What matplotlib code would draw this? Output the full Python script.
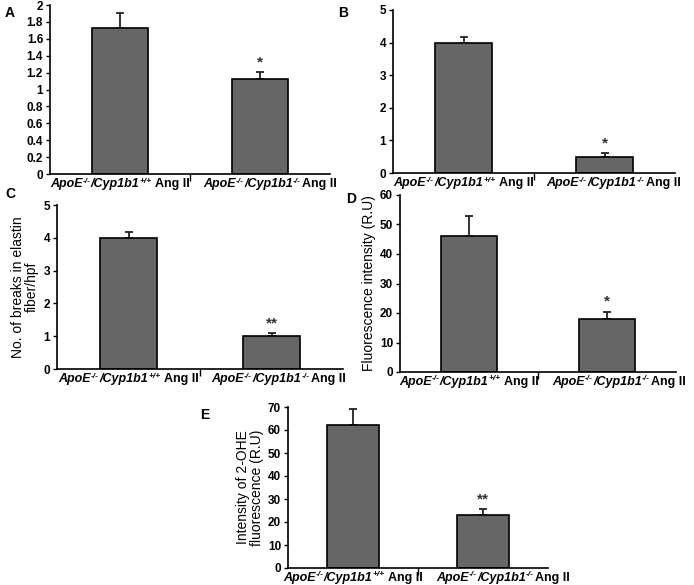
import matplotlib
matplotlib.use("Agg")
import matplotlib.pyplot as plt
from matplotlib.transforms import IdentityTransform

plt.rcParams['font.family'] = ['Liberation Sans', 'DejaVu Sans']

# group labels as pieces: (text, superscript?, italic?)
group_pieces = [
    [("ApoE", False, True), ("-/-", True, True), ("/Cyp1b1", False, True), ("+/+", True, True), ("Ang II", False, False)],
    [("ApoE", False, True), ("-/-", True, True), ("/Cyp1b1", False, True), ("-/-", True, True), ("Ang II", False, False)],
]

# panel values (mean, upper error)
a_vals = [1.73, 1.12]
a_err = [0.17, 0.09]
b_vals = [4.0, 0.5]
b_err = [0.18, 0.1]
c_vals = [4.0, 1.0]
c_err = [0.18, 0.1]
d_vals = [46, 18]
d_err = [7, 2.5]
e_vals = [62, 23]
e_err = [7, 2.5]

stars = {'A': '*', 'B': '*', 'C': '**', 'D': '*', 'E': '**'}

W, H = 694, 585
fig = plt.figure(figsize=(W / 100, H / 100), dpi=100)


def make_ax(left, right, top, bottom):
    return fig.add_axes([left / W, 1 - bottom / H, (right - left) / W, (bottom - top) / H])


def panel(ax, vals, err, ymax, step, star, ylabel=None):
    x = [0, 1]
    ax.bar(x, vals, width=0.4, color='#666666', edgecolor='black', linewidth=1.2, zorder=2)
    ax.errorbar(x, vals, yerr=[[0, 0], err], fmt='none', ecolor='#222222',
                elinewidth=1.3, capsize=3, capthick=1.3, zorder=1)
    ax.set_xlim(-0.5, 1.5)
    ax.set_ylim(0, ymax)
    ticks = [i * step for i in range(int(round(ymax / step)) + 1)]
    ax.set_yticks(ticks)
    ax.set_yticklabels(["{:g}".format(round(t, 2)) for t in ticks], fontsize=8.5, fontweight='bold')
    ax.set_xticks([])
    ax.set_xticks([0.5], minor=True)
    ax.tick_params(axis='x', which='minor', length=5, direction='out', width=1)
    ax.tick_params(axis='y', length=3, width=1, pad=2)
    for s in ['top', 'right']:
        ax.spines[s].set_visible(False)
    for s in ['left', 'bottom']:
        ax.spines[s].set_linewidth(1.2)
    ax.annotate(star, (1, vals[1] + err[1]), xytext=(0, 2), textcoords='offset points',
                ha='center', va='bottom', fontsize=11, fontweight='bold', color='#333333')
    if ylabel:
        ax.set_ylabel(ylabel, fontsize=10, labelpad=3, linespacing=1.0)


def group_labels(ax, renderer):
    # piecewise label so the superscripts stay small and raised
    y0 = ax.transAxes.transform((0, 0))[1] - 13
    prev_end = None
    for i, pieces in enumerate(group_pieces):
        texts = []
        for s, sup, ital in pieces:
            t = fig.text(0, 0, s, transform=IdentityTransform(), fontweight='bold',
                         fontstyle='italic' if ital else 'normal',
                         fontsize=6 if sup else 9, va='baseline', ha='left')
            texts.append((t, sup))
        widths = [t.get_window_extent(renderer).width for t, _ in texts]
        gaps = [0.5 if sup else 0 for _, sup in texts]
        gaps[-1] = 3 if i == 0 else 1
        total = sum(widths) + sum(gaps)
        xc = ax.transData.transform((i, 0))[0]
        xpos = xc - total / 2
        if prev_end is not None:
            # labels do not fit under their bars, push the second one right
            xpos = max(xpos, prev_end + 13)
        for (t, sup), w, g in zip(texts, widths, gaps):
            if t.get_text() == "Ang II":
                xpos += g
            t.set_position((xpos, y0 + (4.5 if sup else 0)))
            xpos += w + (g if sup else 0)
        prev_end = xpos


axA = make_ax(50, 330, 5, 174)
panel(axA, a_vals, a_err, 2, 0.2, stars['A'])
axB = make_ax(393, 675, 10, 173)
panel(axB, b_vals, b_err, 5, 1, stars['B'])
axC = make_ax(57, 343, 205, 369)
panel(axC, c_vals, c_err, 5, 1, stars['C'], "No. of breaks in elastin\nfiber/hpf")
axD = make_ax(400, 676, 195, 372)
panel(axD, d_vals, d_err, 60, 10, stars['D'], "Fluorescence intensity (R.U)")
axE = make_ax(288, 548, 407, 568)
panel(axE, e_vals, e_err, 70, 10, stars['E'], "Intensity of 2-OHE\nfluorescence (R.U)")

fig.canvas.draw()
rend = fig.canvas.get_renderer()
for ax in [axA, axB, axC, axD, axE]:
    group_labels(ax, rend)

for lab, (px, py) in {'A': (5, 13), 'B': (338, 13), 'C': (5, 194), 'D': (346, 199), 'E': (200, 415)}.items():
    fig.text(px / W, 1 - py / H, lab, fontsize=10, fontweight='bold', ha='left', va='center')

fig.savefig("out.png", dpi=100, facecolor='white')
